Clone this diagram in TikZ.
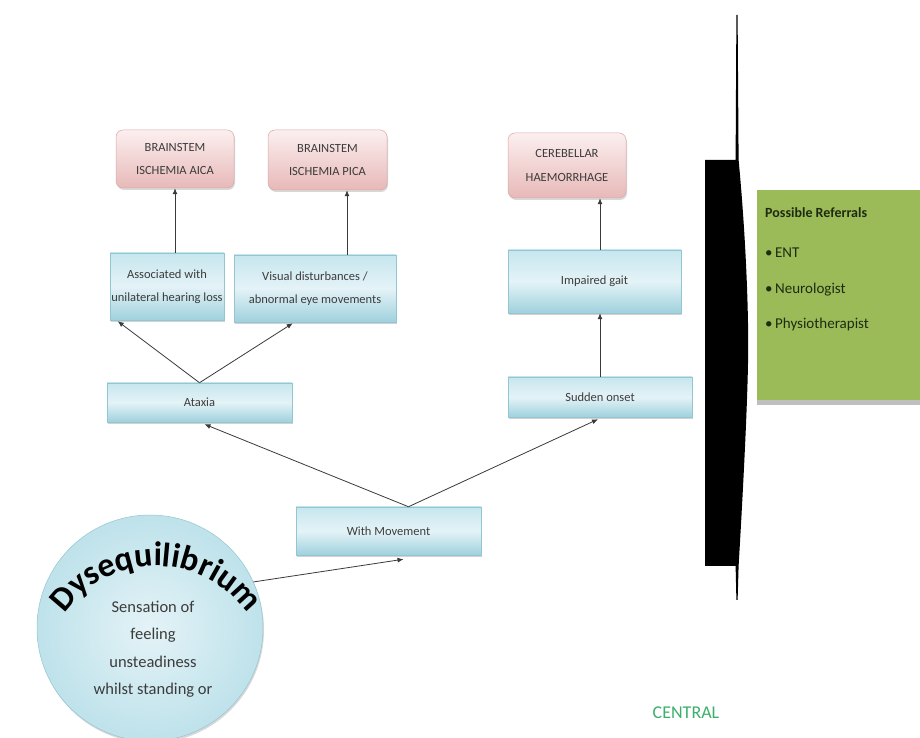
\documentclass[tikz,border=0pt]{standalone}
\usepackage{fontspec}
\setmainfont{Carlito}
\usetikzlibrary{calc,shadows,arrows.meta,decorations.text}
\definecolor{txt}{HTML}{3C3C3C}
\definecolor{bluetop}{HTML}{C6E6EE}
\definecolor{bluemid}{HTML}{E4F3F7}
\definecolor{bluebot}{HTML}{9FD1DD}
\definecolor{blueedge}{HTML}{93C6D2}
\definecolor{pinktop}{HTML}{FCEFEF}
\definecolor{pinkbot}{HTML}{E7B9B8}
\definecolor{pinkedge}{HTML}{D8A9A8}
\definecolor{refgreen}{HTML}{9BBB59}
\definecolor{reftext}{HTML}{1F2B10}
\definecolor{centralgreen}{HTML}{3CAF6C}
\definecolor{linegrey}{HTML}{3A3A3A}
\begin{document}
\begin{tikzpicture}[x=1pt,y=1pt,
  boxtext/.style={font=\fontsize{12.5}{23.5}\selectfont, text=txt, align=center, inner sep=0pt},
  bluebox/.style={boxtext, draw=blueedge, line width=0.5pt,
    top color=bluetop, bottom color=bluebot, middle color=bluemid,
    drop shadow={shadow xshift=1pt, shadow yshift=-2pt, opacity=0.35}},
  pinkbox/.style={boxtext, draw=pinkedge, line width=0.5pt, rounded corners=7pt,
    top color=pinktop, bottom color=pinkbot,
    drop shadow={shadow xshift=1pt, shadow yshift=-2pt, opacity=0.3}},
  arr/.style={draw=linegrey, line width=0.8pt, -{Latex[length=6pt,width=5pt]}},
  bullet/.style={font=\fontsize{15}{17}\selectfont, text=reftext, anchor=west, inner sep=0pt}]

\useasboundingbox (0,0) rectangle (920,738);
\fill[white] (0,0) rectangle (920,738);

% outcome boxes
\node[pinkbox, minimum width=118pt, minimum height=58pt] (aica) at (175,579) {BRAINSTEM\\ISCHEMIA AICA};
\node[pinkbox, minimum width=119pt, minimum height=60pt] (pica) at (327.5,578) {BRAINSTEM\\ISCHEMIA PICA};
\node[pinkbox, minimum width=118pt, minimum height=65pt] (cereb) at (567,572.5) {CEREBELLAR\\HAEMORRHAGE};

% symptom boxes
\node[bluebox, minimum width=114pt, minimum height=67pt] (assoc) at (167,451.5) {Associated with\\unilateral hearing loss};
\node[bluebox, minimum width=162pt, minimum height=67pt] (visual) at (315,449.5) {Visual disturbances /\\abnormal eye movements};
\node[bluebox, minimum width=173pt, minimum height=63pt] (gait) at (594.5,456.5) {Impaired gait};
\node[bluebox, minimum width=185pt, minimum height=39pt] (ataxia) at (199.5,335.5) {Ataxia};
\node[bluebox, minimum width=184pt, minimum height=40pt] (sudden) at (600,341) {Sudden onset};
\node[bluebox, minimum width=185pt, minimum height=48pt] (withmv) at (388.5,207) {With Movement};

% starting circle
\node[circle, minimum size=226pt, inner sep=0pt, draw=blueedge, line width=0.5pt,
  inner color=bluemid, outer color=bluetop!80!bluebot,
  drop shadow={shadow xshift=1pt, shadow yshift=-2pt, opacity=0.3}] (circ) at (150,110) {};
\node[font=\fontsize{16.5}{27.5}\selectfont, text=txt, align=center] (circtext) at (153,89)
  {Sensation of\\feeling\\unsteadiness\\whilst standing or};
\path[decorate, decoration={text along path, text align=center,
  text={|\fontsize{34}{34}\selectfont\bfseries|Dysequilibrium}}]
  (156,60) ++(148:112) arc[start angle=148, end angle=32, radius=112];

% connectors
\draw[arr] (assoc.north -| aica.south) -- (aica.south);
\coordinate (vp) at ($(visual.north)+(32,0)$);
\draw[arr] (vp) -- (vp |- pica.south);
\draw[arr] (sudden.north) -- (sudden.north |- gait.south);
\draw[arr] (sudden.north |- gait.north) -- (sudden.north |- cereb.south);
\draw[arr] (ataxia.north) -- ($(assoc.south west)+(8,-1)$);
\draw[arr] (ataxia.north) -- ($(visual.south west)+(59,-1)$);
\coordinate (apex) at ($(withmv.north)+(20,0)$);
\draw[arr] (apex) -- ($(ataxia.south)+(5,-2)$);
\draw[arr] (apex) -- ($(sudden.south)+(-2,-2)$);
\draw[arr] (circ.24) -- ($(withmv.south)+(15,-4)$);

% black divider with tapering tails
\fill[black] (736.4,723) -- (737.6,723) -- (738.6,578)
  .. controls (746,500) and (749,420) .. (748,375)
  .. controls (747,320) and (742,230) .. (738.6,172)
  -- (737.6,138) -- (736.4,138) -- (735.6,172) -- (705,172) -- (705,578) -- (735.6,578) -- cycle;

% referrals panel
\fill[black!25] (757,333) rectangle (920,338);
\fill[refgreen] (757,338) rectangle (920,548);
\node[bullet, font=\fontsize{14}{16}\selectfont\bfseries] (ref) at (765,525) {Possible Referrals};
\node[bullet] (ent) at (765,485) {\textbullet\,ENT};
\node[bullet] (neuro) at (765,448) {\textbullet\,Neurologist};
\node[bullet] (physio) at (765,413) {\textbullet\,Physiotherapist};

\node[font=\fontsize{18}{20}\selectfont, text=centralgreen] (central) at (686,25) {CENTRAL};
\end{tikzpicture}
\end{document}
